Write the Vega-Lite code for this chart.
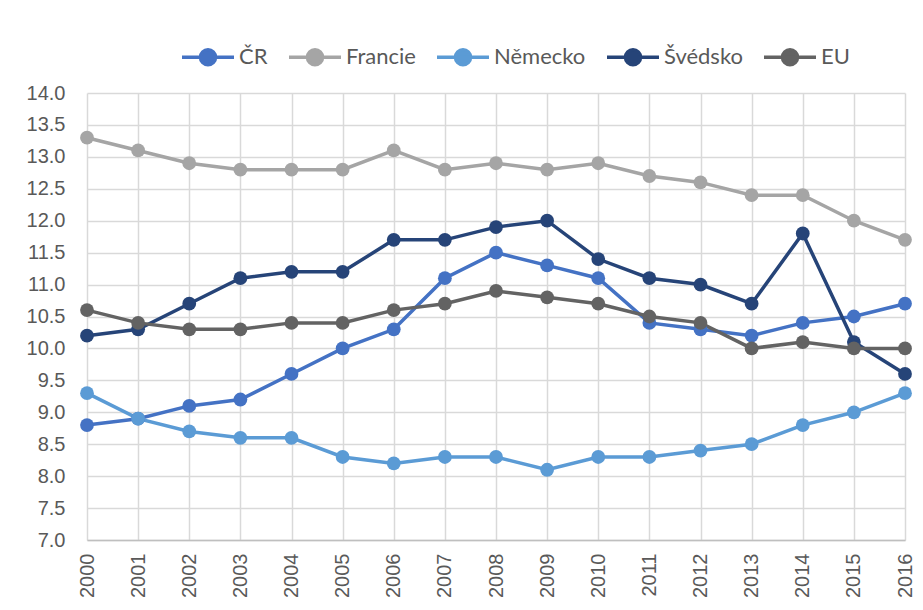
{
  "$schema": "https://vega.github.io/schema/vega-lite/v6.json",
  "width": 818,
  "height": 447,
  "autosize": {"type": "none"},
  "padding": {"left": 87, "top": 93, "right": 18, "bottom": 70},
  "background": "white",
  "config": {
    "view": {"stroke": null},
    "font": "Liberation Sans"
  },
  "datasets": {
    "wide": [
      {"year": "2000", "CR": 8.8, "FR": 13.3, "DE": 9.3, "SE": 10.2, "EU": 10.6},
      {"year": "2001", "CR": 8.9, "FR": 13.1, "DE": 8.9, "SE": 10.3, "EU": 10.4},
      {"year": "2002", "CR": 9.1, "FR": 12.9, "DE": 8.7, "SE": 10.7, "EU": 10.3},
      {"year": "2003", "CR": 9.2, "FR": 12.8, "DE": 8.6, "SE": 11.1, "EU": 10.3},
      {"year": "2004", "CR": 9.6, "FR": 12.8, "DE": 8.6, "SE": 11.2, "EU": 10.4},
      {"year": "2005", "CR": 10.0, "FR": 12.8, "DE": 8.3, "SE": 11.2, "EU": 10.4},
      {"year": "2006", "CR": 10.3, "FR": 13.1, "DE": 8.2, "SE": 11.7, "EU": 10.6},
      {"year": "2007", "CR": 11.1, "FR": 12.8, "DE": 8.3, "SE": 11.7, "EU": 10.7},
      {"year": "2008", "CR": 11.5, "FR": 12.9, "DE": 8.3, "SE": 11.9, "EU": 10.9},
      {"year": "2009", "CR": 11.3, "FR": 12.8, "DE": 8.1, "SE": 12.0, "EU": 10.8},
      {"year": "2010", "CR": 11.1, "FR": 12.9, "DE": 8.3, "SE": 11.4, "EU": 10.7},
      {"year": "2011", "CR": 10.4, "FR": 12.7, "DE": 8.3, "SE": 11.1, "EU": 10.5},
      {"year": "2012", "CR": 10.3, "FR": 12.6, "DE": 8.4, "SE": 11.0, "EU": 10.4},
      {"year": "2013", "CR": 10.2, "FR": 12.4, "DE": 8.5, "SE": 10.7, "EU": 10.0},
      {"year": "2014", "CR": 10.4, "FR": 12.4, "DE": 8.8, "SE": 11.8, "EU": 10.1},
      {"year": "2015", "CR": 10.5, "FR": 12.0, "DE": 9.0, "SE": 10.1, "EU": 10.0},
      {"year": "2016", "CR": 10.7, "FR": 11.7, "DE": 9.3, "SE": 9.6, "EU": 10.0}
    ]
  },
  "data": {"name": "wide"},
  "transform": [
    {"fold": ["CR", "FR", "DE", "SE", "EU"], "as": ["key", "value"]},
    {"lookup": "key", "from": {"data": {"values": [
      {"key": "CR", "series": "ČR"},
      {"key": "FR", "series": "Francie"},
      {"key": "DE", "series": "Německo"},
      {"key": "SE", "series": "Švédsko"},
      {"key": "EU", "series": "EU"}
    ]}, "key": "key", "fields": ["series"]}}
  ],
  "encoding": {
    "x": {
      "field": "year", "type": "ordinal",
      "scale": {"type": "point", "padding": 0},
      "axis": {
        "title": null, "labelAngle": -90, "labelFontSize": 20, "labelFont": "Liberation Sans", "labelColor": "#595959",
        "labelPadding": 13, "tickSize": 0, "domainColor": "#bfbfbf", "domainWidth": 1.5,
        "grid": true, "gridColor": "#d9d9d9", "gridWidth": 1.5, "labelAlign": "right", "labelBaseline": "middle"
      }
    },
    "y": {
      "field": "value", "type": "quantitative",
      "scale": {"domain": [7, 14], "nice": false, "zero": false},
      "axis": {
        "title": null, "values": [7, 7.5, 8, 8.5, 9, 9.5, 10, 10.5, 11, 11.5, 12, 12.5, 13, 13.5, 14],
        "format": ".1f", "labelFontSize": 20, "labelFont": "Liberation Sans", "labelColor": "#595959", "labelPadding": 22,
        "tickSize": 0, "domain": false, "grid": true, "gridColor": "#d9d9d9", "gridWidth": 1.5
      }
    },
    "color": {
      "field": "series", "type": "nominal",
      "sort": ["ČR", "Francie", "Německo", "Švédsko", "EU"],
      "scale": {
        "domain": ["ČR", "Francie", "Německo", "Švédsko", "EU"],
        "range": ["#4472C4", "#A5A5A5", "#5B9BD5", "#264478", "#636363"]
      },
      "legend": {
        "title": null, "orient": "none", "direction": "horizontal",
        "legendX": 93, "legendY": -64, "padding": 0,
        "labelFontSize": 22, "labelFont": "Lato", "labelColor": "#595959",
        "symbolType": "M-1,0L1,0M-0.29,0A0.29,0.29,0,1,1,0.29,0A0.29,0.29,0,1,1,-0.29,0Z",
        "symbolSize": 2704, "symbolStrokeWidth": 3.5, "columnPadding": 14, "labelOffset": 3,
        "encode": {
          "symbols": {"update": {
            "stroke": {"scale": "color", "field": "value"},
            "fill": {"scale": "color", "field": "value"},
            "opacity": {"value": 1}
          }}
        }
      }
    }
  },
  "layer": [
    {"mark": {"type": "line", "strokeWidth": 3.5}},
    {"mark": {"type": "point", "filled": true, "size": 190, "opacity": 1}}
  ]
}
